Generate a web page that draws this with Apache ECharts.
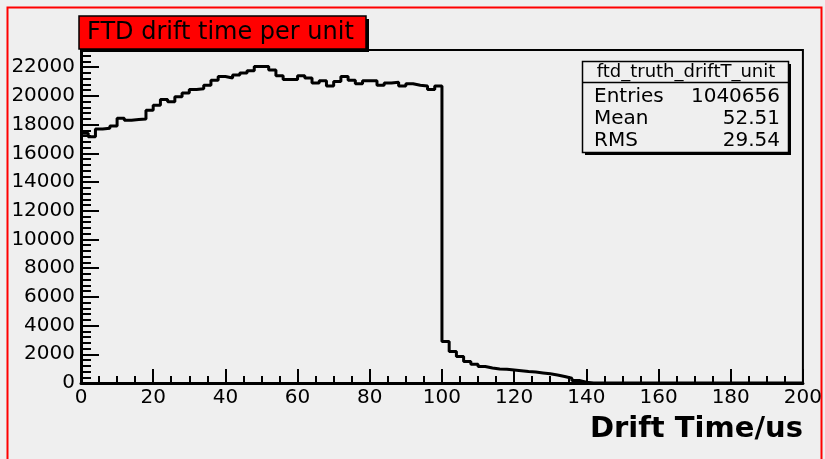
<!DOCTYPE html>
<html><head><meta charset="utf-8">
<script src="https://cdn.jsdelivr.net/npm/echarts/dist/echarts.min.js"></script>
<style>html,body{margin:0;padding:0;background:#efefef}#c{width:825px;height:459px}</style>
</head><body><div id="c"></div>
<script>
const chartTitle = 'FTD drift time per unit';
const xAxisTitle = 'Drift Time/us';
const histName = 'ftd_truth_driftT_unit';
const statLabels = ['Entries', 'Mean', 'RMS'];
const statValues = ['1040656', '52.51', '29.54'];
const binWidth = 2;
const xMin = 0, xMax = 200, xStep = 20;
const yMin = 0, yMax = 23200, yStep = 2000;
const counts = [
  17400, 17150, 17700, 17750, 17900, 18450, 18300, 18350, 18400, 19000,
  19350, 19750, 19600, 19950, 20200, 20450, 20500, 20750, 21100, 21350,
  21250, 21450, 21600, 21750, 22050, 22050, 21800, 21400, 21150, 21150,
  21400, 21250, 20900, 21050, 20700, 21000, 21350, 21100, 20850, 21050,
  21050, 20750, 20900, 20950, 20700, 20850, 20750, 20700, 20450, 20700,
  2900, 2200, 1850, 1500, 1300, 1150, 1050, 980, 950, 900,
  850, 800, 760, 700, 640, 560, 450, 330, 180, 50,
  0, 0, 0, 0, 0, 0, 0, 0, 0, 0,
  0, 0, 0, 0, 0, 0, 0, 0, 0, 0,
  0, 0, 0, 0, 0, 0, 0, 0, 0, 0
];

const histData = counts.map((v, i) => [xMin + i * binWidth, v]);
histData.push([xMin + counts.length * binWidth, counts[counts.length - 1]]);

const FONT = 'DejaVu Sans';
const chart = echarts.init(document.getElementById('c'), null, {renderer: 'canvas'});

const statsGraphics = [];
statLabels.forEach((lab, i) => {
  statsGraphics.push({type: 'text', x: 594, y: 96.5 + i * 22.3,
    style: {text: lab, font: '20px "DejaVu Sans"', fill: '#000', align: 'left', verticalAlign: 'middle'}});
  statsGraphics.push({type: 'text', x: 780, y: 96.5 + i * 22.3,
    style: {text: statValues[i], font: '20px "DejaVu Sans"', fill: '#000', align: 'right', verticalAlign: 'middle'}});
});

chart.setOption({
  animation: false,
  backgroundColor: '#efefef',
  grid: {left: 81, right: 19, top: 50, bottom: 76, show: true,
    backgroundColor: '#efefef', borderColor: '#000', borderWidth: 2},
  xAxis: {
    type: 'value', min: xMin, max: xMax, interval: xStep,
    name: xAxisTitle, nameLocation: 'end', nameGap: 0,
    nameTextStyle: {fontFamily: FONT, fontWeight: 'bold', fontSize: 29, color: '#000',
      align: 'right', verticalAlign: 'top', padding: [32, 0, 0, 0]},
    axisLine: {show: true, onZero: false, lineStyle: {color: '#000', width: 3}},
    axisTick: {show: true, inside: true, length: 14, lineStyle: {color: '#000', width: 2}},
    minorTick: {show: true, splitNumber: 4, length: 7, lineStyle: {color: '#000', width: 2}},
    axisLabel: {fontFamily: FONT, fontSize: 20, color: '#000', margin: 5, formatter: v => String(v)},
    splitLine: {show: false}
  },
  yAxis: {
    type: 'value', min: yMin, max: yMax, interval: yStep,
    axisLine: {show: true, lineStyle: {color: '#000', width: 3}},
    axisTick: {show: true, inside: true, length: 18, lineStyle: {color: '#000', width: 2}},
    minorTick: {show: true, splitNumber: 5, length: 10, lineStyle: {color: '#000', width: 2}},
    axisLabel: {fontFamily: FONT, fontSize: 20, color: '#000', margin: 6, showMaxLabel: false,
      formatter: v => String(v)},
    splitLine: {show: false}
  },
  series: [{
    type: 'line', step: 'end', data: histData, symbol: 'none', clip: true,
    lineStyle: {color: '#000', width: 3}
  }],
  graphic: [
    {type: 'rect', shape: {x: 7.5, y: 7.5, width: 814, height: 470},
      style: {fill: 'none', stroke: '#ff0000', lineWidth: 2}, z: 0, silent: true},
    {type: 'rect', shape: {x: 82, y: 19, width: 287, height: 33}, style: {fill: '#000'}, z: 10},
    {type: 'rect', shape: {x: 79, y: 16, width: 287, height: 33},
      style: {fill: '#ff0000', stroke: '#000', lineWidth: 1.5}, z: 11},
    {type: 'text', x: 87, y: 33, z: 12,
      style: {text: chartTitle, font: '24px "DejaVu Sans"', fill: '#000', align: 'left', verticalAlign: 'middle'}},
    {type: 'rect', shape: {x: 585, y: 64, width: 206, height: 91}, style: {fill: '#000'}, z: 10},
    {type: 'rect', shape: {x: 582.5, y: 61.5, width: 206, height: 91},
      style: {fill: '#efefef', stroke: '#000', lineWidth: 1.5}, z: 11},
    {type: 'line', shape: {x1: 582.5, y1: 82.5, x2: 788.5, y2: 82.5},
      style: {stroke: '#000', lineWidth: 1.5}, z: 12},
    {type: 'text', x: 686, y: 72, z: 12,
      style: {text: histName, font: '18px "DejaVu Sans"', fill: '#000', align: 'center', verticalAlign: 'middle'}}
  ].concat(statsGraphics.map(g => Object.assign({z: 12}, g)))
});
</script></body></html>
